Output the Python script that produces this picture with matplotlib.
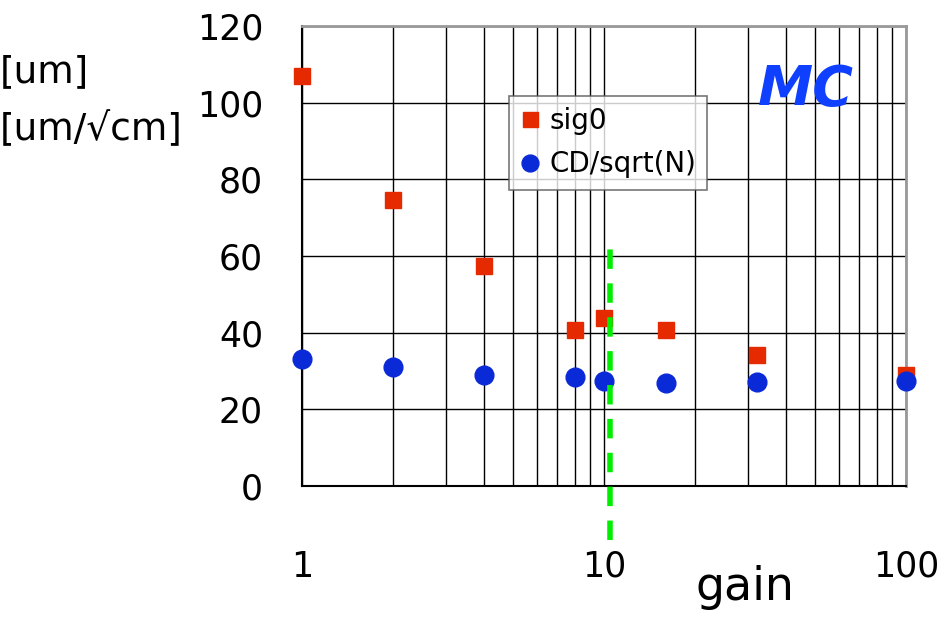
import matplotlib
matplotlib.use('Agg')
import matplotlib.pyplot as plt
import numpy as np
from matplotlib.ticker import FixedLocator, NullFormatter

# gain scan
gain = [1, 2, 4, 8, 10, 16, 32, 100]
sig0 = [106.9, 74.5, 57.5, 40.8, 43.9, 40.8, 34.2, 29.0]
cd_sqrtn = [33.2, 31.1, 29.0, 28.5, 27.5, 26.9, 27.2, 27.5]
gain_cut = 10.5

plt.rcParams['font.family'] = ['DejaVu Sans']

fig = plt.figure(figsize=(9.45, 6.22), dpi=100)
ax = fig.add_axes([302 / 945, 1 - 486 / 622, 604 / 945, 460 / 622])

ax.set_xscale('log')
ax.set_xlim(1, 100)
ax.set_ylim(0, 120)

ax.xaxis.set_major_locator(FixedLocator([1, 10, 100]))
minor = [m * d for d in (1, 10) for m in range(2, 10)]
ax.xaxis.set_minor_locator(FixedLocator(minor))
ax.xaxis.set_minor_formatter(NullFormatter())
ax.set_xticklabels(['1', '10', '100'])
ax.set_yticks(np.arange(0, 121, 20))

ax.grid(True, which='both', axis='x', color='black', lw=1.0)
ax.grid(True, which='major', axis='y', color='black', lw=1.0)
ax.set_axisbelow(True)

ax.tick_params(which='both', length=0)
ax.tick_params(axis='x', pad=46, labelsize=25)
ax.tick_params(axis='y', pad=28, labelsize=25)

for side in ('top', 'right'):
    ax.spines[side].set_color('#999999')
    ax.spines[side].set_linewidth(2)
for side in ('left', 'bottom'):
    ax.spines[side].set_color('black')
    ax.spines[side].set_linewidth(1.5)

ax.plot(gain, sig0, 's', color='#e62a00', ms=12, label='sig0', clip_on=False, zorder=3)
ax.plot(gain, cd_sqrtn, 'o', color='#0a2ad8', ms=13.5, label='CD/sqrt(N)', clip_on=False, zorder=4)

ax.plot([gain_cut, gain_cut], [-14, 63], color='#00ee00', lw=4, ls=(0, (3.5, 2.6)),
        clip_on=False, zorder=5)

leg = ax.legend(loc='upper left', bbox_to_anchor=(207 / 604, 1 - 70 / 460),
                fontsize=20, frameon=True, fancybox=False, handlelength=0.7,
                handletextpad=0.35, borderpad=0.4, labelspacing=0.55, borderaxespad=0,
                markerscale=0.9)
leg.get_frame().set_edgecolor('#555555')
leg.get_frame().set_linewidth(1.2)

ax.text(0.755, 0.86, 'MC', transform=ax.transAxes, color='#1040ff', fontsize=40,
        style='italic', weight='bold', ha='left', va='center')

fig.text(745 / 945, 1 - 588 / 622, 'gain', fontsize=33, ha='center', va='center')
fig.text(0.0, 1 - 72 / 622, '[um]', fontsize=27, ha='left', va='center')
fig.text(0.0, 1 - 130 / 622, '[um/\u221acm]', fontsize=27, ha='left', va='center')

fig.savefig('out.png', dpi=100)
